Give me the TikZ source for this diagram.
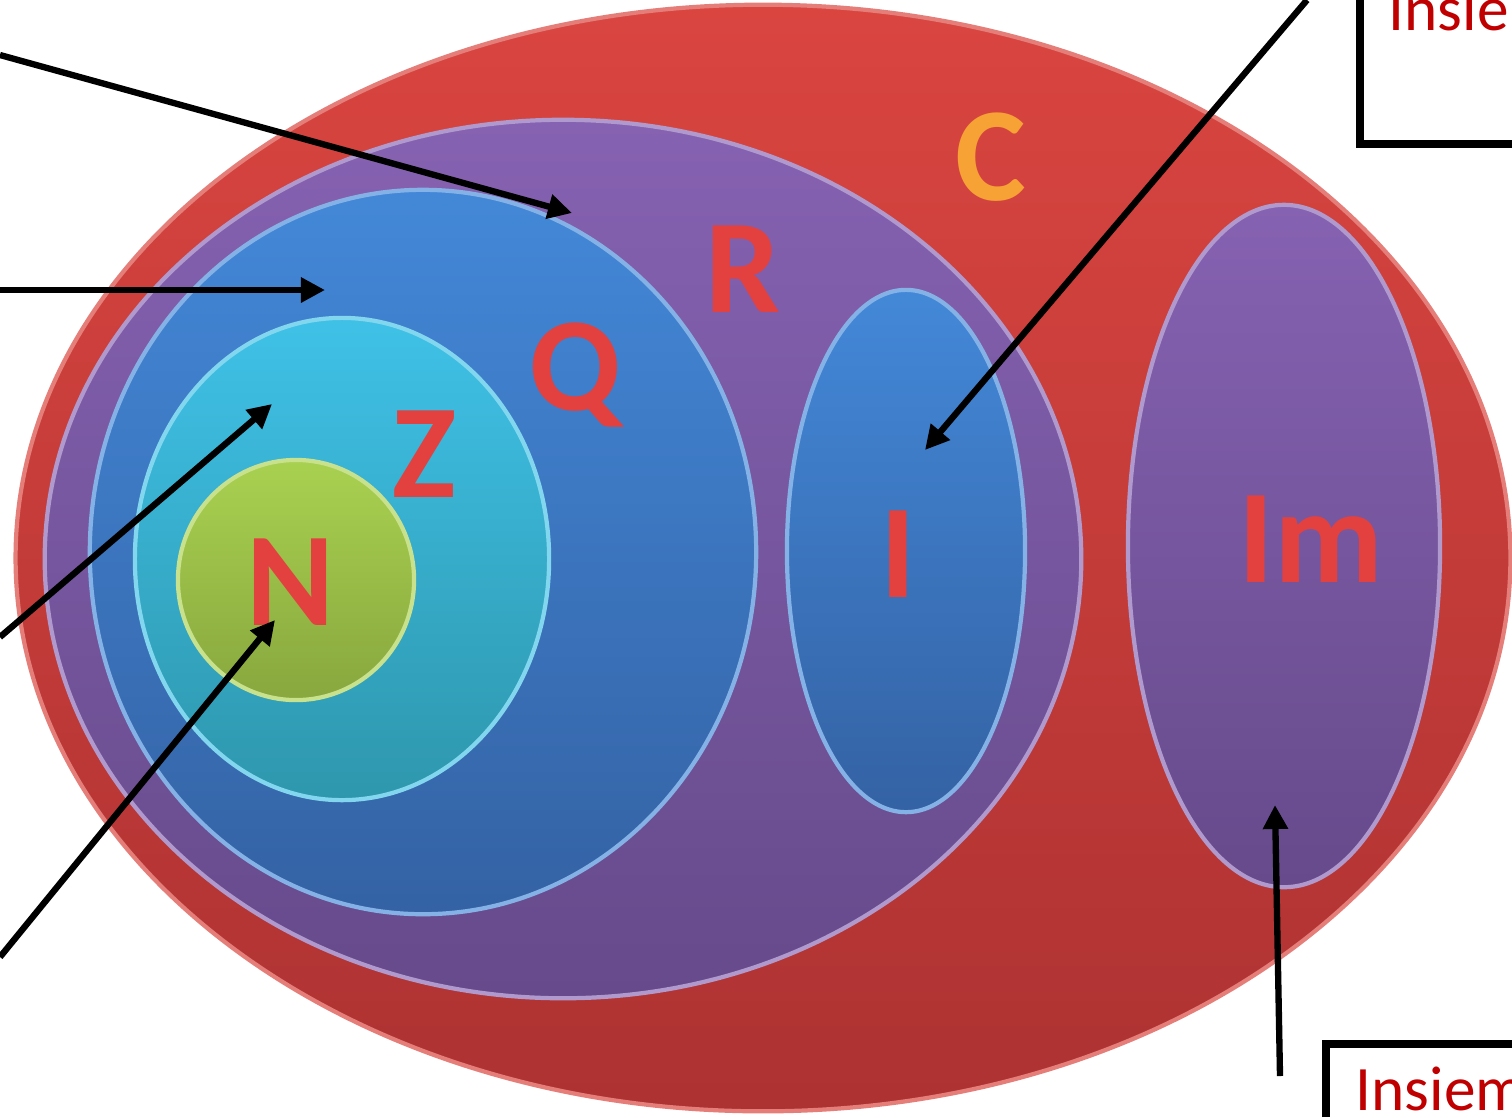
\documentclass[tikz,border=0pt]{standalone}
\usepackage{fontspec}
\setmainfont{Carlito}
\usetikzlibrary{arrows.meta}
\definecolor{setred}{HTML}{DA4540}
\definecolor{setreddk}{HTML}{AD3232}
\definecolor{setpurple}{HTML}{8662B2}
\definecolor{setpurpledk}{HTML}{664A8B}
\definecolor{setblue}{HTML}{4388D8}
\definecolor{setbluedk}{HTML}{3462A4}
\definecolor{setcyan}{HTML}{3FC1E7}
\definecolor{setcyandk}{HTML}{2E97AD}
\definecolor{setgreen}{HTML}{A9D150}
\definecolor{setgreendk}{HTML}{88A73E}
\definecolor{lettred}{HTML}{E2413F}
\definecolor{lettorange}{HTML}{F6A235}
\definecolor{notered}{HTML}{C00000}

\begin{document}
\begin{tikzpicture}[x=0.01cm, y=-0.01cm,
  setshape/.style={line width=1.2pt},
  letter/.style={font=\fontsize{38}{40}\selectfont\bfseries, text=lettred,
                 inner sep=0pt, anchor=base},
  note/.style={font=\fontsize{18}{20}\selectfont, text=notered,
               inner sep=0pt, anchor=base west},
  ptr/.style={line width=1.8pt, -{Triangle[length=2.4mm,width=2.4mm]}},
  frame/.style={line width=2.3pt},
]
\useasboundingbox[fill=white] (0,0) rectangle (1512,1117);

% insiemi
\shadedraw[setshape, top color=setred, bottom color=setreddk, draw=setred!70!white]
  (763,558) ellipse [x radius=7.47cm, y radius=5.53cm];
\shadedraw[setshape, top color=setpurple, bottom color=setpurpledk, draw=setpurple!65!white]
  (563,559) ellipse [x radius=5.18cm, y radius=4.39cm];
\shadedraw[setshape, top color=setblue, bottom color=setbluedk, draw=setblue!65!white]
  (423,552) ellipse [x radius=3.33cm, y radius=3.62cm];
\shadedraw[setshape, top color=setcyan, bottom color=setcyandk, draw=setcyan!65!white]
  (342,559) ellipse [x radius=2.07cm, y radius=2.41cm];
\shadedraw[setshape, top color=setgreen, bottom color=setgreendk, draw=setgreen!65!white]
  (296,580) ellipse [x radius=1.18cm, y radius=1.20cm];
\shadedraw[setshape, top color=setblue, bottom color=setbluedk, draw=setblue!65!white]
  (906,551) ellipse [x radius=1.19cm, y radius=2.61cm];
\shadedraw[setshape, top color=setpurple, bottom color=setpurpledk, draw=setpurple!65!white]
  (1284,546) ellipse [x radius=1.56cm, y radius=3.41cm];

\node[letter, text=lettorange] (lblC) at (991,200) {C};
\node[letter] (lblR) at (743,312) {R};
\node[letter] (lblQ) at (575,410) {Q};
\node[letter] (lblZ) at (424,497) {Z};
\node[letter] (lblN) at (291,625) {N};
\node[letter] (lblI) at (898,597) {I};
\node[letter] (lblIm) at (1311,582) {Im};

% riquadri
\draw[frame] (1360,0) |- (1512,144);
\draw[frame] (1326,1117) |- (1512,1044);
\node[note] (noteC) at (1388,30) {Insie};
\node[note] (noteIm) at (1355,1110) {Insiem};

% frecce
\coordinate (tailR) at (0,55);    \coordinate (tipR) at (572,213);
\coordinate (tailQ) at (0,290);   \coordinate (tipQ) at (325,290);
\coordinate (tailZ) at (0,637);   \coordinate (tipZ) at (272,404);
\coordinate (tailN) at (0,957);   \coordinate (tipN) at (275,620);
\coordinate (tailI) at (1307,0);  \coordinate (tipI) at (925,450);
\coordinate (tailIm) at (1280,1076); \coordinate (tipIm) at (1275,805);
\foreach \s in {R,Q,Z,N,I,Im}
  \draw[ptr] (tail\s) -- (tip\s);
\end{tikzpicture}
\end{document}
